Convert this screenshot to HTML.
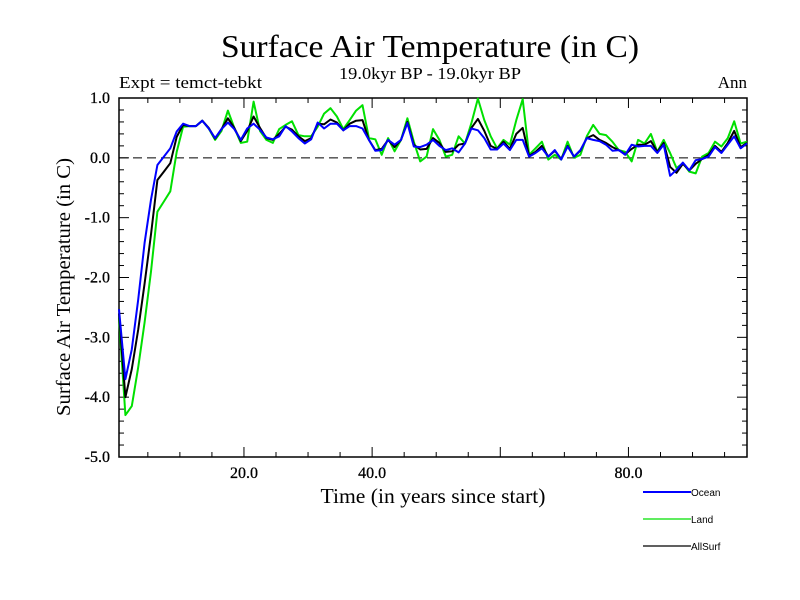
<!DOCTYPE html>
<html><head><meta charset="utf-8"><style>
html,body{margin:0;padding:0;background:#fff;}
svg{display:block;}
</style></head><body>
<svg id="chart" width="800" height="600" xmlns="http://www.w3.org/2000/svg">
<rect width="800" height="600" fill="#fff"/>
<text x="430" y="57" text-anchor="middle" font-family="Liberation Serif, serif" font-size="32" textLength="418" lengthAdjust="spacingAndGlyphs">Surface Air Temperature (in C)</text>
<text x="430" y="79" text-anchor="middle" font-family="Liberation Serif, serif" font-size="17" textLength="182" lengthAdjust="spacingAndGlyphs">19.0kyr BP - 19.0kyr BP</text>
<text x="119" y="88" font-family="Liberation Serif, serif" font-size="17" textLength="143" lengthAdjust="spacingAndGlyphs">Expt = temct-tebkt</text>
<text x="747" y="88" text-anchor="end" font-family="Liberation Serif, serif" font-size="17">Ann</text>
<text x="433" y="503" text-anchor="middle" font-family="Liberation Serif, serif" font-size="21" textLength="225" lengthAdjust="spacingAndGlyphs">Time (in years since start)</text>
<text transform="translate(70,287) rotate(-90)" text-anchor="middle" font-family="Liberation Serif, serif" font-size="20" textLength="258" lengthAdjust="spacingAndGlyphs">Surface Air Temperature (in C)</text>
<g id="axes"></g>
<g id="series"></g>
<g id="legend"></g>
</svg>
<script>
const years = Array.from({length:99},(_,i)=>i+0.5);
const ocean = [-2.53,-3.7,-3.2,-2.37,-1.42,-0.7,-0.12,0.02,0.16,0.44,0.57,0.53,0.53,0.62,0.49,0.33,0.48,0.59,0.48,0.30,0.49,0.57,0.47,0.34,0.31,0.36,
0.53,0.44,0.33,0.24,0.31,0.59,0.49,0.57,0.57,0.46,0.53,0.53,0.49,0.30,0.12,0.13,0.30,0.22,0.30,0.58,0.19,0.18,0.22,0.30,0.20,
0.13,0.16,0.09,0.24,0.49,0.46,0.33,0.14,0.14,0.24,0.13,0.30,0.30,0.02,0.08,0.16,0.02,0.13,-0.03,0.19,0.02,0.13,0.33,0.30,0.28,
0.22,0.12,0.13,0.05,0.22,0.19,0.20,0.20,0.08,0.22,-0.30,-0.20,-0.08,-0.21,-0.04,-0.02,0.02,0.18,0.08,0.22,0.36,0.16,0.24];
const land = [-2.67,-4.3,-4.15,-3.5,-2.75,-1.9,-0.9,-0.73,-0.56,0.1,0.52,0.53,0.53,0.62,0.49,0.30,0.45,0.79,0.50,0.25,0.27,0.94,0.45,0.30,0.25,0.48,
0.55,0.61,0.38,0.36,0.36,0.52,0.74,0.83,0.69,0.48,0.63,0.79,0.88,0.33,0.31,0.05,0.33,0.11,0.30,0.66,0.27,-0.06,0.02,0.48,0.30,
0.02,0.05,0.36,0.24,0.58,0.99,0.63,0.36,0.16,0.30,0.22,0.63,0.98,0.05,0.16,0.27,-0.03,0.05,-0.03,0.27,0.00,0.05,0.36,0.55,0.40,
0.38,0.27,0.13,0.10,-0.06,0.30,0.24,0.40,0.10,0.30,0.08,-0.17,-0.09,-0.23,-0.26,0.02,0.08,0.27,0.19,0.33,0.61,0.24,0.27];
const allsurf = [-2.6,-4.0,-3.53,-2.87,-2.1,-1.28,-0.37,-0.23,-0.09,0.35,0.55,0.53,0.53,0.62,0.5,0.32,0.48,0.66,0.5,0.28,0.45,0.69,0.5,0.33,0.3,0.4,
0.52,0.47,0.36,0.28,0.33,0.57,0.56,0.64,0.59,0.46,0.57,0.62,0.63,0.30,0.13,0.15,0.30,0.18,0.30,0.60,0.22,0.14,0.15,0.33,0.25,
0.10,0.11,0.22,0.24,0.50,0.65,0.45,0.20,0.15,0.27,0.15,0.40,0.50,0.03,0.10,0.20,0.02,0.12,-0.02,0.20,0.02,0.12,0.33,0.38,0.30,
0.25,0.18,0.13,0.06,0.15,0.22,0.22,0.28,0.10,0.25,-0.15,-0.25,-0.10,-0.21,-0.10,-0.02,0.05,0.20,0.10,0.25,0.45,0.18,0.25];
const yTickValues = [1,0,-1,-2,-3,-4,-5];
const yTickLabels = ["1.0","0.0","-1.0","-2.0","-3.0","-4.0","-5.0"];
const xTickValues = [20,40,80];
const xTickLabels = ["20.0","40.0","80.0"];
const seriesNames = ["Ocean","Land","AllSurf"];

const NS="http://www.w3.org/2000/svg";
const L=119,R=747,T=98,B=457,xMin=0.5,xMax=98.5,yMin=-5,yMax=1;
const sx=v=>L+(v-xMin)/(xMax-xMin)*(R-L);
const sy=v=>B-(v-yMin)/(yMax-yMin)*(B-T);
function mk(tag,attrs,parent){const e=document.createElementNS(NS,tag);for(const k in attrs)e.setAttribute(k,attrs[k]);parent.appendChild(e);return e;}
const axes=document.getElementById('axes');
let fr=mk('rect',{x:L,y:T,width:R-L,height:B-T,fill:'none',stroke:'#000','stroke-width':1.5},axes);


for(let v=-5;v<=1.0001;v+=0.2){
  const y=sy(v);const major=Math.abs(v-Math.round(v))<1e-6;const len=major?10:5;
  mk('line',{x1:L,x2:L+len,y1:y,y2:y,stroke:'#000'},axes);
  mk('line',{x1:R,x2:R-len,y1:y,y2:y,stroke:'#000'},axes);
}
yTickValues.forEach((v,i)=>{
  const t=mk('text',{x:110,y:sy(v)+5,'text-anchor':'end','font-family':'Liberation Serif, serif','font-size':16,stroke:'#000','stroke-width':0.3},axes);
  t.textContent=yTickLabels[i];
  
  
});
for(let v=5;v<xMax;v+=5){
  const x=sx(v);const major=v%20===0;const len=major?10:5;
  mk('line',{x1:x,x2:x,y1:B,y2:B-len,stroke:'#000'},axes);
  mk('line',{x1:x,x2:x,y1:T,y2:T+len,stroke:'#000'},axes);
}
xTickValues.forEach((v,i)=>{
  const t=mk('text',{x:sx(v),y:478,'text-anchor':'middle','font-family':'Liberation Serif, serif','font-size':16,stroke:'#000','stroke-width':0.3},axes);
  t.textContent=xTickLabels[i];
  
  
});
const zl=mk('line',{x1:L,x2:R,y1:sy(0),y2:sy(0),stroke:'#000','stroke-dasharray':'9,5'},axes);


const sg=document.getElementById('series');
const colors=['#0000ff','#00e000','#000000'];
const widths=[2,2,2];
[land,allsurf,ocean].forEach((arr,k)=>{
  const idx=[1,2,0][k];
  const pts=arr.map((v,i)=>sx(years[i]).toFixed(1)+','+sy(v).toFixed(1)).join(' ');
  const p=mk('polyline',{points:pts,fill:'none',stroke:colors[idx],'stroke-width':widths[idx],'stroke-linejoin':'round'},sg);
  
  
});
const lg=document.getElementById('legend');
seriesNames.forEach((n,i)=>{
  const y=492+i*27;
  const g=mk('g',{},lg);
  
  
  mk('line',{x1:643,x2:691,y1:y,y2:y,stroke:colors[i],'stroke-width':i===0?2:1.2},g);
  const t=mk('text',{x:691,y:y+4,'font-family':'Liberation Sans, sans-serif','font-size':10},g);
  t.textContent=n;
});
</script>
</body></html>
